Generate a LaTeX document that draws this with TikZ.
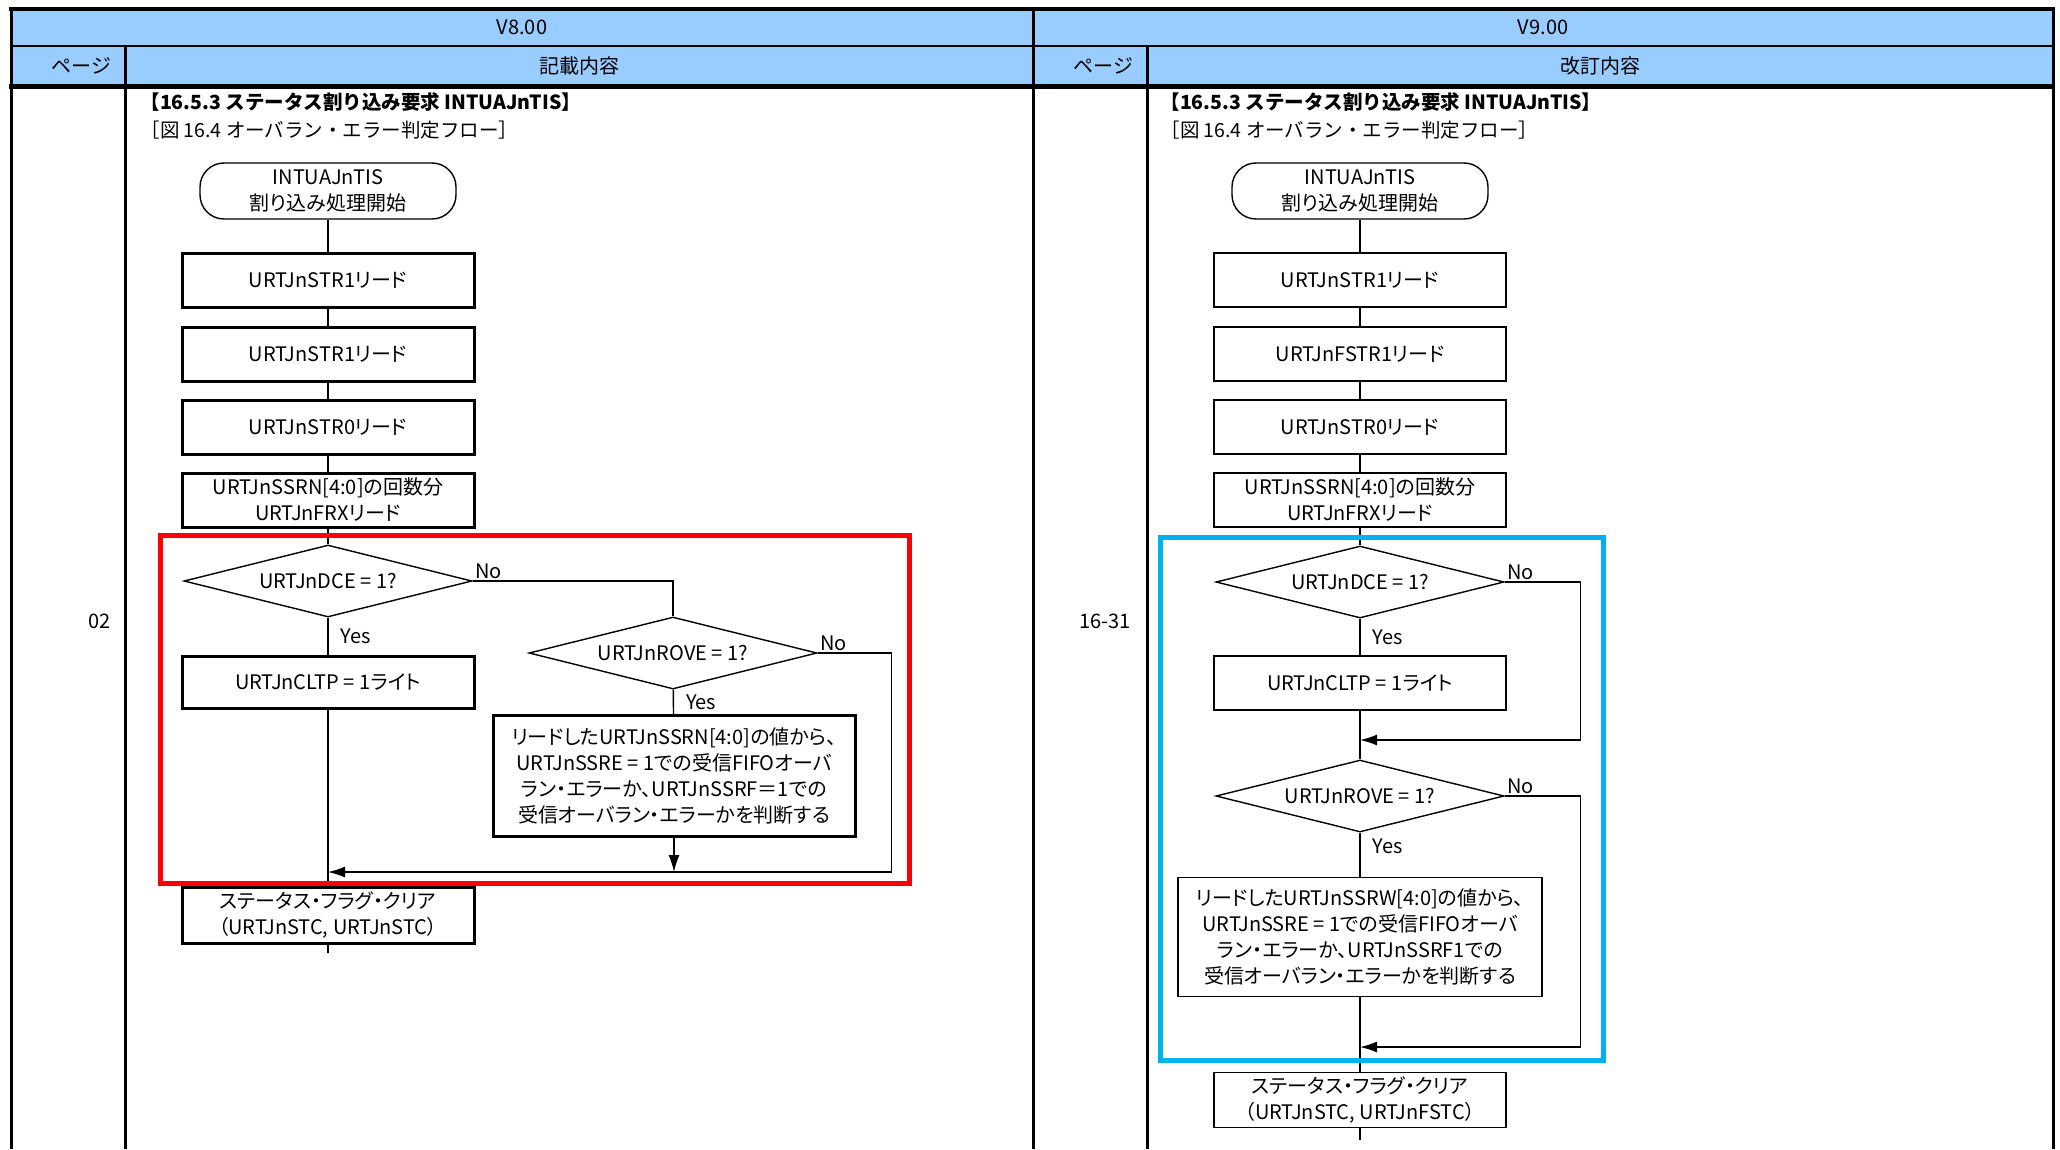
\documentclass[tikz,border=0pt]{standalone}
\usepackage{fontspec}
\setmainfont{Noto Sans CJK JP}
\newfontfamily\paltfont{Noto Sans CJK JP}[RawFeature=+palt]
\usetikzlibrary{arrows.meta,shapes.geometric}
\definecolor{hdblue}{HTML}{99CCFF}
\definecolor{markblue}{HTML}{00B0F0}
\tikzset{
  txt/.style={font=\fontsize{20}{26}\selectfont},
  boxtxt/.style={font=\paltfont\fontsize{20}{26}\selectfont},
  proc/.style={boxtxt,draw,line width=3pt,minimum width=292pt,minimum height=54pt,align=center,inner sep=0pt},
  procthin/.style={proc,line width=1.4pt},
  term/.style={boxtxt,draw,line width=1.4pt,rounded corners=24pt,minimum width=256pt,minimum height=56pt,align=center,inner sep=0pt},
  dec/.style={boxtxt,draw,diamond,aspect=4,line width=1.4pt,minimum width=288pt,minimum height=72pt,inner sep=0pt},
  flow/.style={line width=1.4pt},
  back/.style={flow,-{Latex[length=17pt,width=11pt]}},
  lab/.style={txt,inner sep=2pt},
  gridline/.style={line width=3pt},
  hlframe/.style={line width=5pt},
  headline/.style={txt,font=\fontsize{19.5}{26}\selectfont\bfseries,anchor=west},
  figcap/.style={txt,font=\fontsize{19.5}{26}\selectfont,anchor=west}
}
\begin{document}
\begin{tikzpicture}[x=1pt,y=-1pt]
      \useasboundingbox (0,0) rectangle (2060,1149);
      \fill[hdblue] (11,9) rectangle (2053,86);
      \draw[line width=4pt] (9,9) -- (2055,9);
      \draw[line width=2pt] (11,46) -- (2053,46);
      \draw[line width=5pt] (9,86) -- (2055,86);
      \foreach \gx in {11,1033,2053} \draw[gridline] (\gx,9) -- (\gx,1149);
      \foreach \gx in {125,1147} \draw[gridline] (\gx,46) -- (\gx,1149);
      \node[txt] (hleft) at (522,27) {V8.00};
      \node[txt] (hright) at (1543,27) {V9.00};
      \node[txt,anchor=east] (pgleft) at (115,66) {ページ};
      \node[txt] (cleft) at (579,66) {記載内容};
      \node[txt,anchor=east] (pgright) at (1137,66) {ページ};
      \node[txt] (cright) at (1600,66) {改訂内容};
      \node[txt,anchor=east] (noleft) at (114,621) {02};
      \node[txt,anchor=east] (noright) at (1134,621) {16-31};
      \node[headline] (tleft) at (137,102) {【16.5.3 ステータス割り込み要求 INTUAJnTIS】};
      \node[figcap] (fleft) at (137,130) {［図 16.4 オーバラン・エラー判定フロー］};
      \node[headline] (tright) at (1157,102) {【16.5.3 ステータス割り込み要求 INTUAJnTIS】};
      \node[figcap] (fright) at (1157,130) {［図 16.4 オーバラン・エラー判定フロー］};
      \node[term] (ls) at (328,191) {INTUAJnTIS\\割り込み処理開始};
      \node[proc] (l1) at (328,280) {URTJnSTR1リード};
      \node[proc] (l2) at (328,354) {URTJnSTR1リード};
      \node[proc] (l3) at (328,427) {URTJnSTR0リード};
      \node[proc] (l4) at (328,500) {URTJnSSRN[4:0]の回数分\\URTJnFRXリード};
      \node[dec] (ld1) at (328,581) {URTJnDCE = 1?};
      \node[proc,minimum height=52pt] (l5) at (328,682) {URTJnCLTP = 1ライト};
      \node[dec] (ld2) at (673,653) {URTJnROVE = 1?};
      \node[proc,minimum width=362pt,minimum height=121pt] (l6) at (674,776) {リードしたURTJnSSRN[4:0]の値から、\\URTJnSSRE = 1での受信FIFOオーバ\\ラン・エラーか、URTJnSSRF＝1での\\受信オーバラン・エラーかを判断する};
      \node[proc,minimum height=56pt] (l7) at (328,915) {ステータス・フラグ・クリア\\（URTJnSTC, URTJnSTC）};
      \coordinate (lm) at (328,872);
      \coordinate (lend) at (328,953);
      \draw[flow] (ls) -- (l1) -- (l2) -- (l3) -- (l4) -- (ld1);
      \draw[flow] (ld1) -- node[lab,right=10pt] {Yes} (l5);
      \draw[flow] (ld1.east) node[lab,above right] {No} -| (ld2.north);
      \draw[flow] (ld2) -- node[lab,right=10pt] {Yes} (l6);
      \draw[back] (ld2.east) node[lab,above right] {No} -- ++(74,0) |- (lm);
      \draw[back] (l6) -- (l6 |- lm);
      \draw[flow] (l5) -- (l7) -- (lend);
      \node[term] (rs) at (1360,191) {INTUAJnTIS\\割り込み処理開始};
      \node[procthin] (r1) at (1360,280) {URTJnSTR1リード};
      \node[procthin] (r2) at (1360,354) {URTJnFSTR1リード};
      \node[procthin] (r3) at (1360,427) {URTJnSTR0リード};
      \node[procthin] (r4) at (1360,500) {URTJnSSRN[4:0]の回数分\\URTJnFRXリード};
      \node[dec] (rd1) at (1360,582) {URTJnDCE = 1?};
      \node[procthin] (r5) at (1360,683) {URTJnCLTP = 1ライト};
      \node[dec] (rd2) at (1360,796) {URTJnROVE = 1?};
      \node[procthin,minimum width=364pt,minimum height=119pt] (r6) at (1360,937) {リードしたURTJnSSRW[4:0]の値から、\\URTJnSSRE = 1での受信FIFOオーバ\\ラン・エラーか、URTJnSSRF1での\\受信オーバラン・エラーかを判断する};
      \node[procthin,minimum height=55pt] (r7) at (1360,1100) {ステータス・フラグ・クリア\\（URTJnSTC, URTJnFSTC）};
      \coordinate (rm1) at (1360,740);
      \coordinate (rm2) at (1360,1047);
      \coordinate (rend) at (1360,1140);
      \draw[flow] (rs) -- (r1) -- (r2) -- (r3) -- (r4) -- (rd1);
      \draw[flow] (rd1) -- node[lab,right=10pt] {Yes} (r5);
      \draw[flow] (r5) -- (rd2);
      \draw[back] (rd1.east) node[lab,above right] {No} -- ++(76,0) |- (rm1);
      \draw[flow] (rd2) -- node[lab,right=10pt,pos=0.3] {Yes} (r6);
      \draw[back] (rd2.east) node[lab,above right] {No} -- ++(76,0) |- (rm2);
      \draw[flow] (r6) -- (r7) -- (rend);
      \draw[hlframe,red] (160,535) rectangle (909,883);
      \draw[hlframe,markblue] (1160,537) rectangle (1603,1060);
    \end{tikzpicture}
\end{document}
